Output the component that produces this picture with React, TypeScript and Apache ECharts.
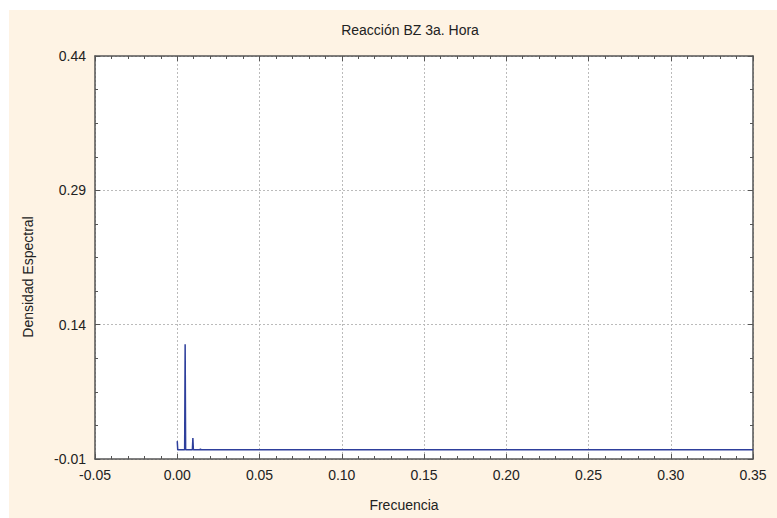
import React, { useEffect, useRef } from "react";
import * as echarts from "echarts";

const titleText = "Reacción BZ 3a. Hora";
const xName = "Frecuencia";
const yName = "Densidad Espectral";

const xMin = -0.05;
const xMax = 0.35;
const xStep = 0.05;
const yMin = -0.01;
const yMax = 0.44;
const yStep = 0.15;

// Spectral density (sparse: peaks and the flat floor)
const frequencies = [0, 0.0003, 0.0045, 0.0048, 0.0051, 0.0092, 0.0095, 0.0098, 0.0138, 0.0141, 0.0144, 0.35];
const densities = [0.01, 0.0002, 0.0002, 0.118, 0.0002, 0.0002, 0.0135, 0.0002, 0.0002, 0.0012, 0.0002, 0.0002];

const FONT = "'Liberation Sans', Arial, sans-serif";

export default function App() {
  const ref = useRef<HTMLDivElement>(null);
  useEffect(() => {
    if (!ref.current) return;
    const chart = echarts.init(ref.current, null, { renderer: "svg" });
    const data = frequencies.map((f, i) => [f, densities[i]]);
    const axisLine = { show: true, lineStyle: { color: "#555", width: 1.5 } };
    const tickBase = { show: true, inside: true, length: 5, lineStyle: { color: "#555", width: 1 } };
    const minorBase = { show: true, length: 3, lineStyle: { color: "#555", width: 1 } };
    const labelStyle = { color: "#222", fontFamily: FONT, fontSize: 14 };
    const textStyle = (text: string) => ({
      text,
      fill: "#222",
      font: `14px ${FONT}`,
      fontFamily: FONT,
      fontSize: 14,
      textAlign: "center",
      textVerticalAlign: "middle",
      align: "center",
      verticalAlign: "middle",
    });
    chart.setOption({
      animation: false,
      backgroundColor: "#FEF3E4",
      graphic: [
        { type: "text", x: 401, y: 20, style: textStyle(titleText) },
        { type: "text", x: 395, y: 495, style: textStyle(xName) },
        { type: "text", x: 19, y: 267, rotation: Math.PI / 2, style: textStyle(yName) },
      ],
      grid: { left: 86, right: 24, top: 46, bottom: 59, show: true, backgroundColor: "#fff", borderWidth: 0 },
      xAxis: [
        {
          type: "value",
          min: xMin,
          max: xMax,
          interval: xStep,
          axisLine: { ...axisLine, onZero: false },
          axisTick: tickBase,
          minorTick: { ...minorBase, splitNumber: 5 },
          axisLabel: { ...labelStyle, margin: 9, formatter: (v: number) => v.toFixed(2) },
          splitLine: { show: true, lineStyle: { color: "#bbb", type: [2, 2], width: 1 } },
        },
        {
          type: "value",
          position: "top",
          min: xMin,
          max: xMax,
          interval: xStep,
          axisLine: { ...axisLine, onZero: false },
          axisTick: tickBase,
          minorTick: { ...minorBase, splitNumber: 5 },
          axisLabel: { show: false },
          splitLine: { show: false },
        },
      ],
      yAxis: [
        {
          type: "value",
          min: yMin,
          max: yMax,
          interval: yStep,
          axisLine: { ...axisLine, onZero: false },
          axisTick: tickBase,
          minorTick: { ...minorBase, splitNumber: 4 },
          axisLabel: { ...labelStyle, margin: 9, formatter: (v: number) => v.toFixed(2) },
          splitLine: { show: true, lineStyle: { color: "#bbb", type: [2, 2], width: 1 } },
        },
        {
          type: "value",
          position: "right",
          min: yMin,
          max: yMax,
          interval: yStep,
          axisLine: { ...axisLine, onZero: false },
          axisTick: tickBase,
          minorTick: { ...minorBase, splitNumber: 4 },
          axisLabel: { show: false },
          splitLine: { show: false },
        },
      ],
      series: [
        {
          type: "line",
          data,
          showSymbol: false,
          symbol: "none",
          lineStyle: { color: "#2E3F9C", width: 1.5 },
          clip: true,
        },
      ],
    });
    return () => chart.dispose();
  }, []);
  return (
    <div
      ref={ref}
      style={{ position: "absolute", left: 9, top: 10, width: 768, height: 508 }}
    />
  );
}
